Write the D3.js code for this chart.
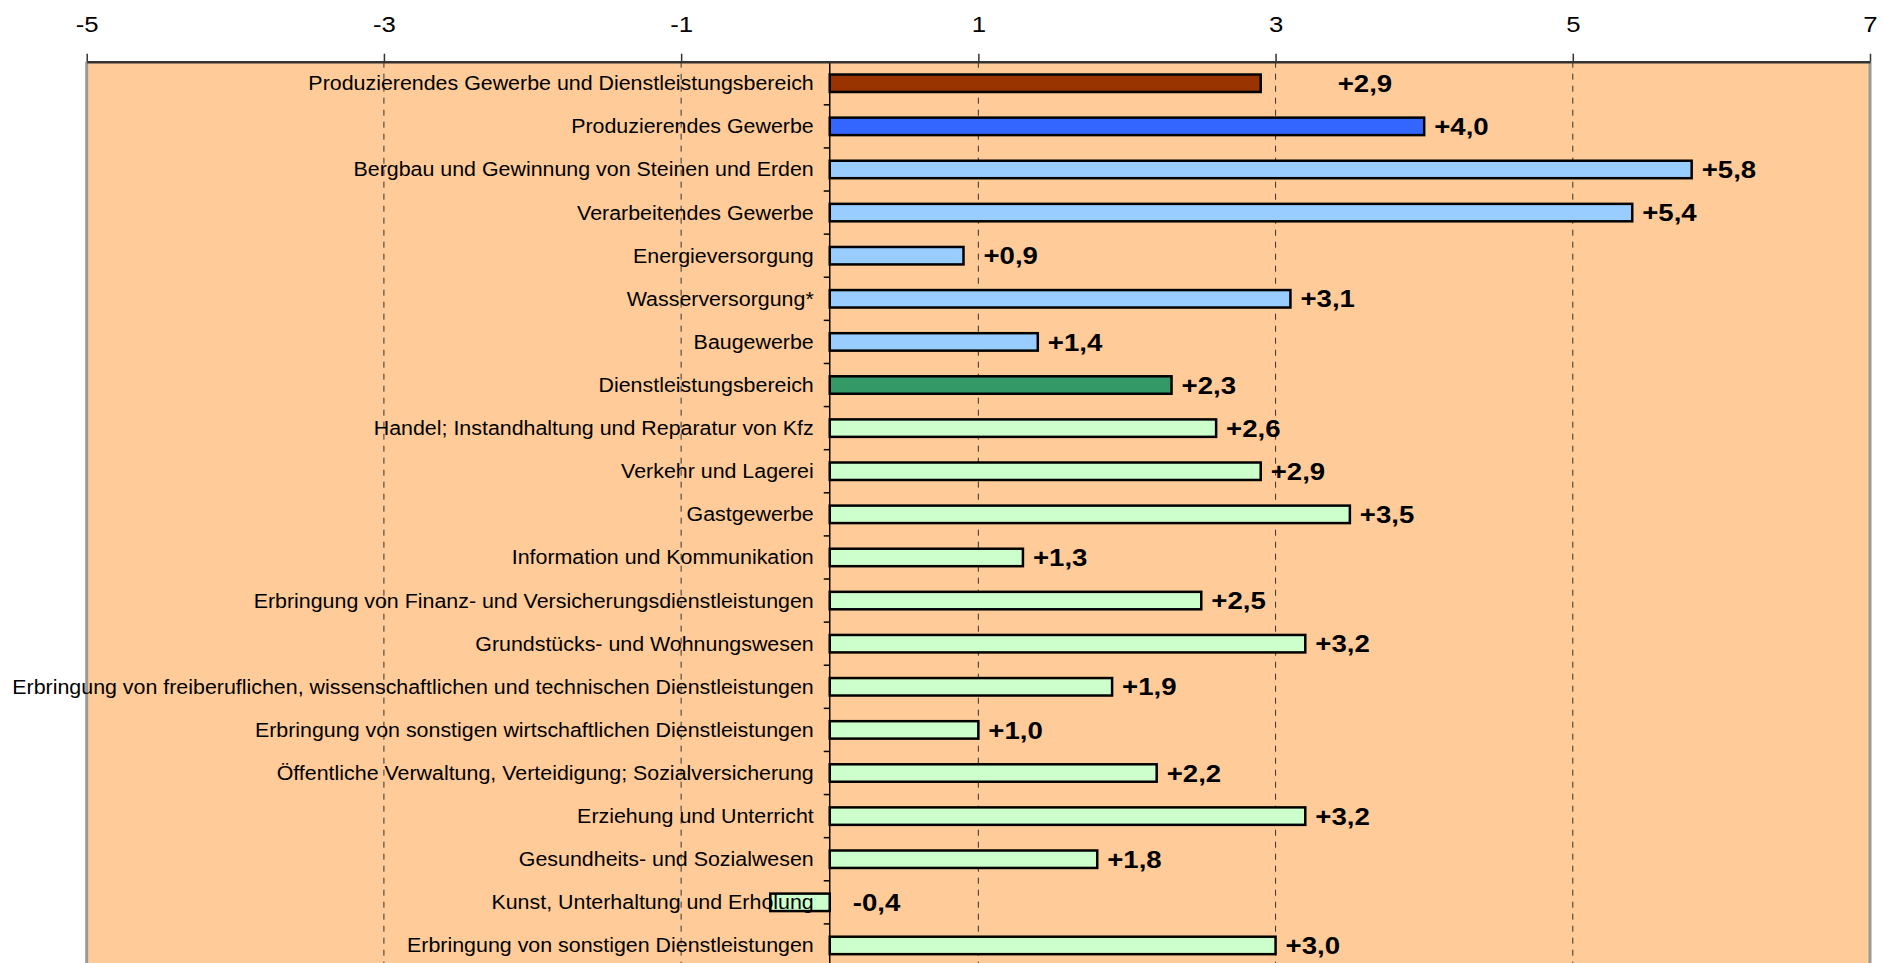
<!DOCTYPE html>
<html><head><meta charset="utf-8">
<script src="https://cdn.jsdelivr.net/npm/d3@7"></script>
<style>body{margin:0;background:#fff}svg{display:block}</style>
</head><body>
<svg id="c" width="1883" height="963"></svg>
<script>
const categories = [
  "Produzierendes Gewerbe und Dienstleistungsbereich",
  "Produzierendes Gewerbe",
  "Bergbau und Gewinnung von Steinen und Erden",
  "Verarbeitendes Gewerbe",
  "Energieversorgung",
  "Wasserversorgung*",
  "Baugewerbe",
  "Dienstleistungsbereich",
  "Handel; Instandhaltung und Reparatur von Kfz",
  "Verkehr und Lagerei",
  "Gastgewerbe",
  "Information und Kommunikation",
  "Erbringung von Finanz- und Versicherungsdienstleistungen",
  "Grundstücks- und Wohnungswesen",
  "Erbringung von freiberuflichen, wissenschaftlichen und technischen Dienstleistungen",
  "Erbringung von sonstigen wirtschaftlichen Dienstleistungen",
  "Öffentliche Verwaltung, Verteidigung; Sozialversicherung",
  "Erziehung und Unterricht",
  "Gesundheits- und Sozialwesen",
  "Kunst, Unterhaltung und Erholung",
  "Erbringung von sonstigen Dienstleistungen"
];
const values = [2.9, 4.0, 5.8, 5.4, 0.9, 3.1, 1.4, 2.3, 2.6, 2.9, 3.5, 1.3, 2.5, 3.2, 1.9, 1.0, 2.2, 3.2, 1.8, -0.4, 3.0];
const groups = ["total","prod","prodSub","prodSub","prodSub","prodSub","prodSub","serv","servSub","servSub","servSub","servSub","servSub","servSub","servSub","servSub","servSub","servSub","servSub","servSub","servSub"];
const xTicks = [-5, -3, -1, 1, 3, 5, 7];

const colors = {total:"#993300", prod:"#3366FF", prodSub:"#99CCFF", serv:"#339966", servSub:"#CCFFCC"};
const labelExtra = {0: 67, 4: 10, 19: 13};
const FONT = "Liberation Sans, Arial, sans-serif";

const svg = d3.select("#c");
const L = 86.7, R = 1870, T = 61.7, B = 967;
const x = d3.scaleLinear().domain([-5, 7]).range([L, R]);
const y = d3.scaleBand().domain(categories).range([T, B]).paddingInner(0.595).paddingOuter(0.2975);
const band = (B - T) / categories.length;

// background
svg.append("rect").attr("x", L).attr("y", T).attr("width", R - L).attr("height", B - T).attr("fill", "#FFCC99");

// grid
svg.append("g").selectAll("line").data(xTicks.filter(v => v > -5 && v < 7)).join("line")
  .attr("x1", d => x(d)).attr("x2", d => x(d)).attr("y1", T).attr("y2", B)
  .attr("stroke", "#333").attr("stroke-width", 1).attr("stroke-dasharray", "6,6");

// side borders
svg.append("line").attr("x1", L).attr("x2", L).attr("y1", T).attr("y2", B).attr("stroke", "#999").attr("stroke-width", 3);
svg.append("line").attr("x1", R).attr("x2", R).attr("y1", T).attr("y2", B).attr("stroke", "#999").attr("stroke-width", 3);

// category axis at zero
svg.append("line").attr("x1", x(0)).attr("x2", x(0)).attr("y1", T).attr("y2", B).attr("stroke", "#000").attr("stroke-width", 1.5);
svg.append("g").selectAll("line").data(d3.range(1, categories.length)).join("line")
  .attr("x1", x(0) - 6).attr("x2", x(0)).attr("y1", i => T + i * band).attr("y2", i => T + i * band)
  .attr("stroke", "#000").attr("stroke-width", 1.5);

// bars
svg.append("g").selectAll("rect").data(values).join("rect")
  .attr("x", d => x(Math.min(0, d))).attr("width", d => Math.abs(x(d) - x(0)))
  .attr("y", (d, i) => y(categories[i])).attr("height", y.bandwidth())
  .attr("fill", (d, i) => colors[groups[i]]).attr("stroke", "#000").attr("stroke-width", 2.5);

// category labels
svg.append("g").selectAll("text").data(categories).join("text")
  .attr("transform", d => `translate(${x(0) - 16},${y(d) + y.bandwidth() / 2}) scale(1.07,1)`)
  .attr("dy", "0.35em")
  .attr("text-anchor", "end").attr("font-family", FONT)
  .attr("font-size", 20).attr("fill", "#000").text(d => d);

// value labels
const fmt = v => (v > 0 ? "+" : v < 0 ? "-" : "") + Math.abs(v).toFixed(1).replace(".", ",");
svg.append("g").selectAll("text").data(values).join("text")
  .attr("transform", (d, i) => `translate(${x(Math.max(0, d)) + 10 + (labelExtra[i] || 0)},${y(categories[i]) + y.bandwidth() / 2}) scale(1.15,1)`)
  .attr("dy", "0.36em")
  .attr("font-family", FONT).attr("font-weight", "bold")
  .attr("font-size", 24).attr("fill", "#000").text(fmt);

// top axis
const ax = svg.append("g").attr("transform", `translate(0,${T})`)
  .call(d3.axisTop(x).tickValues(xTicks).tickSize(8).tickSizeOuter(0).tickFormat(d => String(d)));
ax.select(".domain").attr("stroke", "#333").attr("stroke-width", 2.5);
ax.selectAll(".tick line").attr("stroke", "#333").attr("stroke-width", 1.5);
ax.selectAll(".tick text").attr("font-family", FONT).attr("font-size", 23)
  .attr("fill", "#000").attr("y", null).attr("dy", null)
  .attr("transform", "translate(0,-29.4) scale(1.12,1)");
</script>
</body></html>
